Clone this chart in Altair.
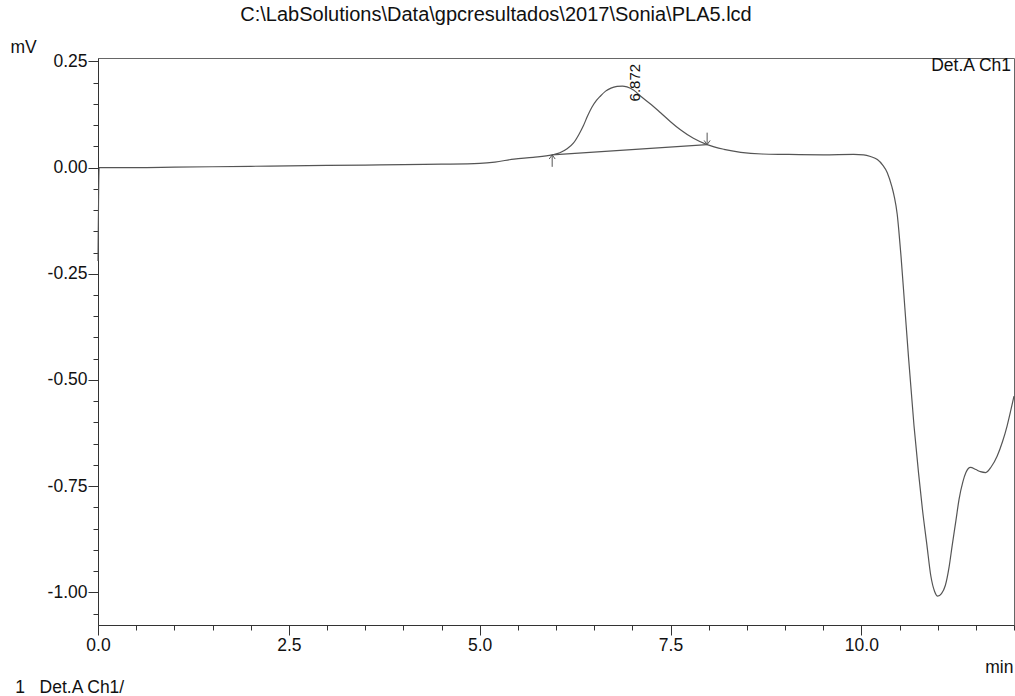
import altair as alt
import pandas as pd

FONT = "Liberation Sans"
TXT = "#111111"

title_text = "C:\\LabSolutions\\Data\\gpcresultados\\2017\\Sonia\\PLA5.lcd"

time_min = [0.0, 0.015, 0.5, 1.0, 1.5, 2.0, 2.5, 3.0, 3.5, 4.0, 4.5, 5.0, 5.2, 5.45, 5.7,
            5.95, 6.05, 6.15, 6.23, 6.3, 6.36, 6.41, 6.47, 6.53, 6.58, 6.65, 6.72, 6.8,
            6.87, 6.93, 7.02, 7.11, 7.25, 7.37, 7.5, 7.63, 7.8, 7.98, 8.2, 8.42, 8.7,
            9.0, 9.5, 9.9, 10.03, 10.12, 10.21, 10.28, 10.34, 10.4, 10.43, 10.47, 10.49,
            10.52, 10.57, 10.62, 10.69, 10.75, 10.8, 10.86, 10.91, 10.96, 11.0, 11.05,
            11.1, 11.15, 11.19, 11.24, 11.28, 11.33, 11.37, 11.43, 11.5, 11.56, 11.63,
            11.7, 11.78, 11.85, 11.91, 11.96, 12.0]
signal_mv = [-0.22, 0.0, 0.0, 0.001, 0.002, 0.003, 0.004, 0.005, 0.006, 0.007, 0.008,
             0.01, 0.013, 0.02, 0.024, 0.03, 0.035, 0.045, 0.058, 0.078, 0.099, 0.12,
             0.142, 0.158, 0.168, 0.18, 0.187, 0.191, 0.192, 0.19, 0.182, 0.168, 0.148,
             0.129, 0.108, 0.089, 0.069, 0.054, 0.043, 0.036, 0.032, 0.031, 0.03, 0.031,
             0.03, 0.026, 0.019, 0.006, -0.012, -0.045, -0.067, -0.11, -0.146, -0.209,
             -0.33, -0.451, -0.608, -0.72, -0.804, -0.89, -0.961, -0.998, -1.009, -1.003,
             -0.984, -0.94, -0.89, -0.83, -0.781, -0.74, -0.718, -0.706, -0.711, -0.716,
             -0.718, -0.705, -0.679, -0.645, -0.608, -0.57, -0.538]

baseline_t = [5.95, 7.98]
baseline_v = [0.030, 0.054]

peak_t = [6.872]
peak_v = [0.191]
peak_label = ["6.872"]

up_arrow_t = [5.95]
up_arrow_v = [0.030]
down_arrow_t = [7.98]
down_arrow_v = [0.054]

x_major = [0.0, 2.5, 5.0, 7.5, 10.0]
y_major = [-1.0, -0.75, -0.5, -0.25, 0.0, 0.25]
x_ticks = [round(i * 0.5, 2) for i in range(25)]
y_ticks = [round(-1.05 + i * 0.05, 2) for i in range(27)]

x_domain = [0.0, 12.0]
y_domain = [-1.077, 0.258]

curve_df = pd.DataFrame({"t": time_min, "v": signal_mv})
base_df = pd.DataFrame({"t": baseline_t, "v": baseline_v})
peak_df = pd.DataFrame({"t": peak_t, "v": peak_v, "label": peak_label})
up_df = pd.DataFrame({"t": up_arrow_t, "v": up_arrow_v})
down_df = pd.DataFrame({"t": down_arrow_t, "v": down_arrow_v})
det_df = pd.DataFrame({"t": [12.0], "v": [0.24], "label": ["Det.A Ch1"]})
foot_df = pd.DataFrame({"t": [-1.084], "v": [-1.225],
                        "label": ["1\u00a0\u00a0\u00a0Det.A Ch1/"]})

xs = alt.Scale(domain=x_domain, nice=False, zero=False)
ys = alt.Scale(domain=y_domain, nice=False, zero=False)

x_axis = alt.Axis(
    values=x_ticks,
    labelExpr="datum.value % 2.5 === 0 ? format(datum.value, '.1f') : ''",
    tickSize={"condition": {"test": "datum.value % 2.5 === 0", "value": 10}, "value": 5},
    labelOverlap=False, labelFlush=False, grid=False,
    labelFont=FONT, labelFontSize=17.5, labelColor=TXT, labelPadding=1,
    domainColor="#333333", tickColor="#333333",
    title="min", titleFont=FONT, titleFontSize=17.5, titleFontWeight="normal",
    titleColor=TXT, titleX=915, titleY=42, titleAlign="right", titleBaseline="middle",
)
y_test = "abs(datum.value * 4 - round(datum.value * 4)) < 0.000001"
y_axis = alt.Axis(
    values=y_ticks,
    labelExpr=f"{y_test} ? replace(format(datum.value, '.2f'), '\u2212', '-') : ''",
    tickSize={"condition": {"test": y_test, "value": 10}, "value": 5},
    labelOverlap=False, labelFlush=False, grid=False,
    labelFont=FONT, labelFontSize=17.5, labelColor=TXT, labelPadding=1,
    domainColor="#333333", tickColor="#333333",
    title="mV", titleFont=FONT, titleFontSize=17.5, titleFontWeight="normal",
    titleColor=TXT, titleAngle=0, titleX=-75, titleY=-11, titleAlign="center",
    titleBaseline="middle",
)

X = alt.X("t:Q", scale=xs, axis=x_axis)
Y = alt.Y("v:Q", scale=ys, axis=y_axis)

curve = alt.Chart(curve_df).mark_line(
    color="#555555", strokeWidth=1.2, interpolate="monotone"
).encode(x=X, y=Y)

base = alt.Chart(base_df).mark_line(color="#555555", strokeWidth=1.2).encode(x=X, y=Y)

peak = alt.Chart(peak_df).mark_text(
    angle=270, align="left", baseline="middle", dx=-15, dy=12,
    font=FONT, fontSize=15, color=TXT
).encode(x=X, y=Y, text="label:N")

UP_ARROW = "M -0.25 0.35 L 0 0 L 0.25 0.35 M 0 0 L 0 1"
DOWN_ARROW = "M -0.25 -0.35 L 0 0 L 0.25 -0.35 M 0 0 L 0 -1"

up = alt.Chart(up_df).mark_point(
    shape=UP_ARROW, size=576, filled=False, stroke="#555555", strokeWidth=1, opacity=1
).encode(x=X, y=Y)

down = alt.Chart(down_df).mark_point(
    shape=DOWN_ARROW, size=576, filled=False, stroke="#555555", strokeWidth=1, opacity=1
).encode(x=X, y=Y)

det = alt.Chart(det_df).mark_text(
    align="right", baseline="middle", dx=-3, font=FONT, fontSize=17.5, color=TXT
).encode(x=X, y=Y, text="label:N")

foot = alt.Chart(foot_df).mark_text(
    align="left", baseline="middle", font=FONT, fontSize=17.5, color=TXT
).encode(x=X, y=Y, text="label:N")

chart = alt.layer(curve, base, peak, up, down, det, foot).properties(
    width=916,
    height=567,
    title=alt.TitleParams(
        text=title_text, font=FONT, fontSize=20, fontWeight="normal", color=TXT,
        anchor="middle", dx=-60, offset=13,
    ),
    autosize=alt.AutoSizeParams(type="none"),
    padding={"left": 98, "top": 58, "right": 1, "bottom": 71},
    background="white",
).configure_view(stroke="#666666", strokeWidth=1)

chart.save("out.html", embed_options={"renderer": "svg", "actions": False})
